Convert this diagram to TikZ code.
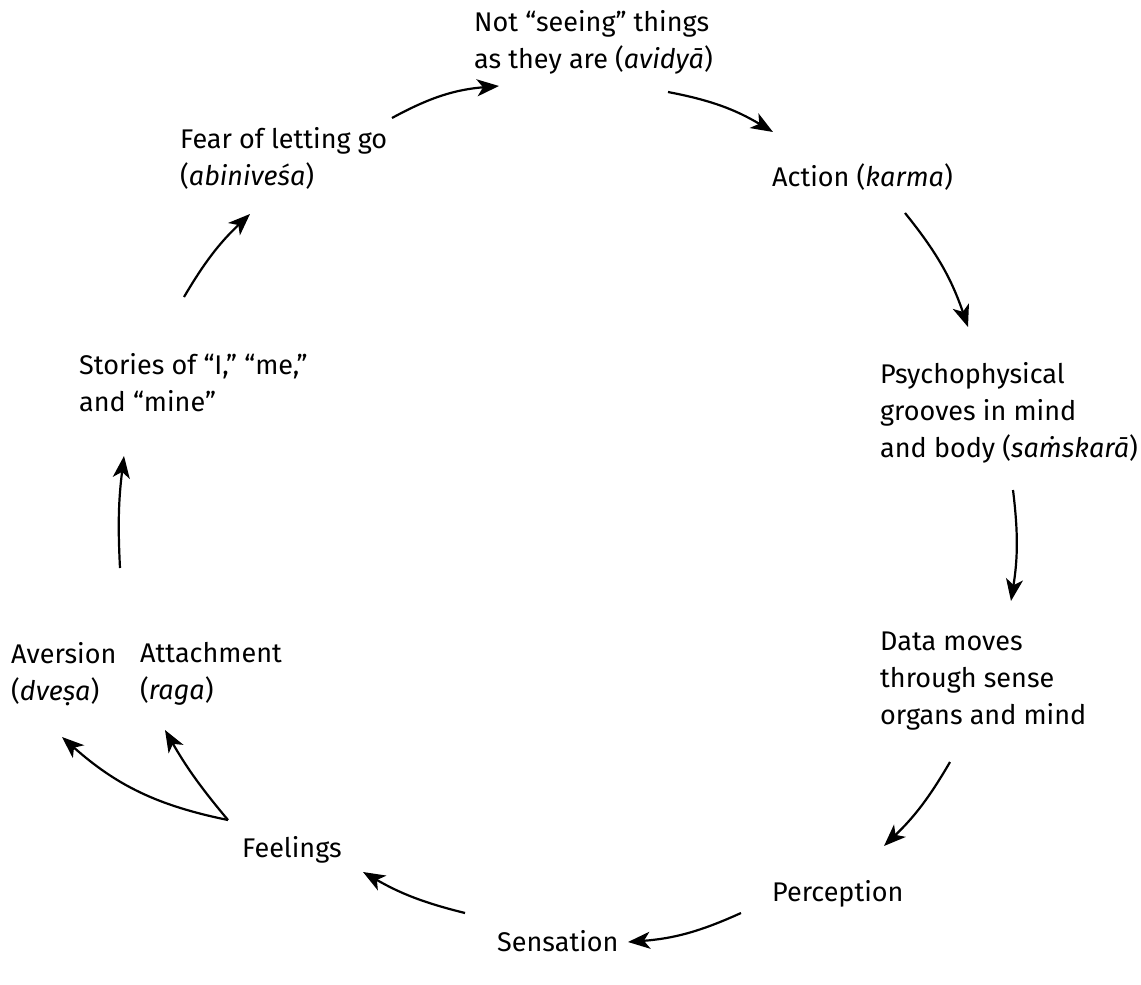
\documentclass[tikz,border=0pt]{standalone}
\usepackage{fontspec}
\setmainfont{Fira Sans}
\usepackage{tikz}
\usetikzlibrary{arrows.meta}

\begin{document}
\begin{tikzpicture}[x=1pt,y=-1pt,
	every node/.style={inner sep=0pt, align=left, font=\fontsize{27}{37}\selectfont},
	arr/.style={line width=2.2pt, -{Stealth[length=22pt,width=17pt,inset=6pt]}}]
	\useasboundingbox (0,0) rectangle (1141,985);
	\node[anchor=west] (avidya) at (474,42) {Not “seeing” things\\as they are (\textit{avidyā})};
	\node[anchor=west] (fear) at (180,158) {Fear of letting go\\(\textit{abiniveśa})};
	\node[anchor=base west] (action) at (772,186) {Action (\textit{karma})};
	\node[anchor=west] (grooves) at (880,413) {Psychophysical\\grooves in mind\\and body (\textit{saṁskarā})};
	\node[anchor=west] (data) at (880,681) {Data moves\\through sense\\organs and mind};
	\node[anchor=base west] (perception) at (772,901) {Perception};
	\node[anchor=base west] (sensation) at (497,951) {Sensation};
	\node[anchor=base west] (feelings) at (242,857) {Feelings};
	\node[anchor=west] (aversion) at (11,674) {Aversion\\(\textit{dveṣa})};
	\node[anchor=west] (attachment) at (140,674) {Attachment\\(\textit{raga})};
	\node[anchor=west] (stories) at (79,383) {Stories of “I,” “me,”\\and “mine”};
	% the cycle
	\draw[arr] ([shift={(212,-40)}]fear.west) to[bend left=12] ([shift={(25,44)}]avidya.west);
	\draw[arr] ([shift={(194,50)}]avidya.west) to[bend left=10] ([shift={(1,-54)}]action.base west);
	\draw[arr] ([shift={(133,27)}]action.base west) to[bend left=10] ([shift={(88,-86)}]grooves.west);
	\draw[arr] ([shift={(133,77)}]grooves.west) to[bend left=8] ([shift={(131,-80)}]data.west);
	\draw[arr] ([shift={(70,81)}]data.west) to[bend left=8] ([shift={(112,-55)}]perception.base west);
	\draw[arr] ([shift={(-31,12)}]perception.base west) to[bend left=10] ([shift={(131,-9)}]sensation.base west);
	\draw[arr] ([shift={(-32,-38)}]sensation.base west) to[bend left=8] ([shift={(121,15)}]feelings.base west);
	\draw[arr] ([shift={(-14,-37)}]feelings.base west) to[bend left=15] ([shift={(51,63)}]aversion.west);
	\draw[arr] ([shift={(-14,-37)}]feelings.base west) to[bend left=5] ([shift={(25,56)}]attachment.west);
	\draw[arr] ([shift={(109,-106)}]aversion.west) to[bend left=5] ([shift={(45,73)}]stories.west);
	\draw[arr] ([shift={(105,-86)}]stories.west) to[bend left=8] ([shift={(70,56)}]fear.west);
\end{tikzpicture}
\end{document}
